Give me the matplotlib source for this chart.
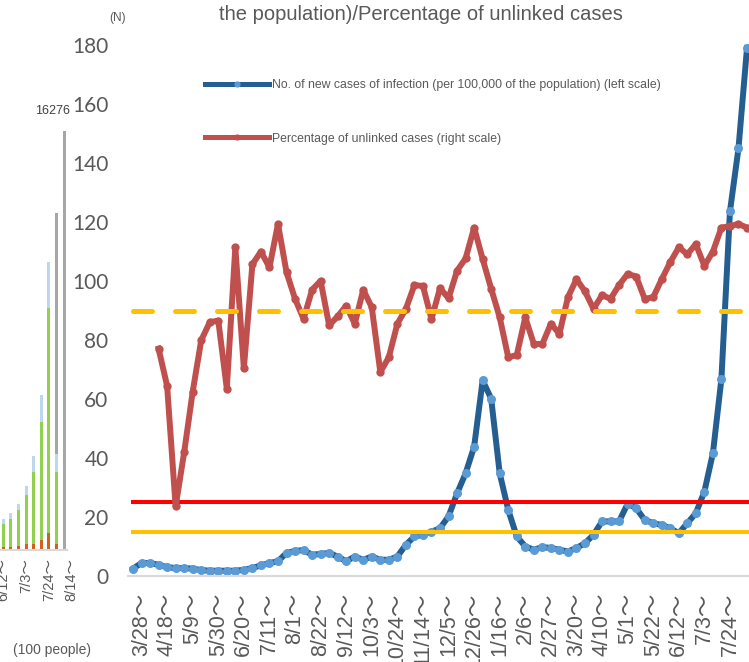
import matplotlib
matplotlib.use('Agg')
import matplotlib.pyplot as plt
import numpy as np
from matplotlib.lines import Line2D

# ---- data: main chart (weekly, starting the week of 3/21) ----
week_labels = ['3/28', '4/18', '5/9', '5/30', '6/20', '7/11', '8/1', '8/22',
               '9/12', '10/3', '10/24', '11/14', '12/5', '12/26', '1/16', '2/6',
               '2/27', '3/20', '4/10', '5/1', '5/22', '6/12', '7/3', '7/24']

# new cases per 100,000 of the population (left scale)
new_cases = [2.5, 4.4, 4.4, 3.8, 3.0, 2.7, 2.7, 2.5, 2.0, 1.8,
             1.8, 1.8, 1.8, 2.1, 2.7, 3.6, 4.4, 5.0, 7.8, 8.5,
             8.8, 7.2, 7.5, 7.8, 6.6, 5.0, 6.6, 5.5, 6.6, 5.5,
             5.5, 6.6, 10.6, 13.4, 14.0, 15.0, 16.2, 20.2, 28.0, 34.8,
             43.8, 66.3, 60.1, 34.8, 22.4, 13.4, 10.0, 8.9, 9.8, 9.5,
             8.9, 8.3, 9.5, 11.1, 14.0, 18.5, 18.5, 18.5, 24.5, 23.0,
             19.0, 17.9, 17.3, 16.2, 14.5, 17.9, 21.3, 28.6, 41.6, 66.9,
             123.6, 145.0, 179.0]

# percentage of unlinked cases (right scale, %)
unlinked_pct = [np.nan, np.nan, np.nan, 42.8, 35.8, 13.1, 23.3, 34.7, 44.4, 47.8,
                48.1, 35.3, 61.9, 39.1, 58.7, 61.1, 58.1, 66.3, 57.2, 52.2,
                48.4, 53.9, 55.6, 47.2, 48.9, 50.9, 47.5, 53.9, 50.6, 38.4,
                41.2, 47.5, 50.3, 54.8, 54.6, 48.4, 54.2, 52.3, 57.5, 59.8,
                65.6, 59.7, 54.1, 48.7, 41.2, 41.6, 48.7, 43.7, 43.7, 47.5,
                45.6, 52.5, 55.9, 53.6, 50.3, 52.9, 52.2, 54.8, 56.9, 56.4,
                52.2, 52.5, 55.9, 59.1, 61.9, 60.6, 62.5, 58.4, 61.1, 65.6,
                65.9, 66.3, 65.6]

threshold_red = 25      # per 100,000
threshold_orange = 15   # per 100,000
threshold_pct = 50      # %

# ---- data: neighbouring bar chart (cut off on the left) ----
bar_labels = ['6/12', '7/3', '7/24', '8/14']
bar_orange = [104, 104, 142, 207, 233, 362, 647, 207, 0]
bar_green = [906, 1100, 1385, 1903, 2783, 4596, 8726, 2809, 0]
bar_lblue = [194, 220, 233, 350, 608, 1036, 1787, 712, 0]
bar_gray = [0, 0, 0, 0, 0, 0, 0, 9373, 16276]
bar_total_label = '16276'

W, H = 749, 662
fig = plt.figure(figsize=(W / 100, H / 100), dpi=100)
fig.patch.set_facecolor('white')

txt = '#595959'
jp = ['Liberation Sans', 'Noto Sans CJK JP']

# ================= main chart =================
ax = fig.add_axes([128 / W, (H - 576) / H, 632 / W, 531 / H])
x = np.arange(len(new_cases))
ax.plot(x, new_cases, color='#255E91', lw=4.3, marker='o', markersize=6.5,
        markerfacecolor='#5B9BD5', markeredgecolor='none', clip_on=False, zorder=2)
ax.plot(x, [threshold_red] * len(x), color='#FF0000', lw=2.9, zorder=3, clip_on=False)
ax.plot(x, [threshold_orange] * len(x), color='#FFC000', lw=2.9, zorder=3, clip_on=False)

ax.set_xlim(-5 / 8.528, 632 / 8.528 - 5 / 8.528)
ax.set_ylim(0, 180)
ax.set_yticks(range(0, 181, 20))
ax.tick_params(axis='y', length=0, pad=14, labelsize=15, labelcolor=txt)
for t in ax.get_yticklabels():
    t.set_family('Lato')
ax.set_xticks(x[1::3])
ax.set_xticklabels([s + '～' for s in week_labels], rotation=90, family=jp,
                   fontsize=15.5, color=txt, va='top', ha='center')
ax.tick_params(axis='x', length=0, pad=12)
for side in ['top', 'right', 'left']:
    ax.spines[side].set_visible(False)
ax.spines['bottom'].set_color('#D9D9D9')
ax.spines['bottom'].set_linewidth(1.5)
ax.patch.set_visible(False)

ax2 = ax.twinx()
ax2.set_ylim(0, 100)
ax2.plot(x, unlinked_pct, color='#C0504D', lw=4.3, marker='o', markersize=6,
         markeredgecolor='none', clip_on=False, zorder=2)
ax2.plot(x, [threshold_pct] * len(x), color='#FFC000', lw=3.6,
         dashes=(3.8, 4.6), dash_capstyle='round', zorder=3, clip_on=False)
ax2.set_yticks([])
for side in ax2.spines:
    ax2.spines[side].set_visible(False)

fig.text(421 / W, 1 - 20 / H, 'the population)/Percentage of unlinked cases',
         ha='center', va='baseline', fontsize=14.5, color=txt, family='Liberation Sans')
fig.text(118 / W, 1 - 18 / H, '(N)', ha='center', va='center', fontsize=8.5,
         color=txt, family='Liberation Sans')

handles = [
    Line2D([], [], color='#255E91', lw=3.6, marker='o', markersize=4.5,
           markerfacecolor='#5B9BD5', markeredgecolor='none'),
    Line2D([], [], color='#C0504D', lw=3.6, marker='o', markersize=4.5,
           markeredgecolor='none'),
]
labels = ['No. of new cases of infection (per 100,000 of the population) (left scale)',
          'Percentage of unlinked cases (right scale)']
fig.legend(handles, labels, loc='upper left', bbox_to_anchor=(205 / W, 1 - 79 / H),
           frameon=False, handlelength=5.2, handletextpad=0.3, labelspacing=3.4,
           borderpad=0, borderaxespad=0, labelcolor=txt,
           prop={'family': 'Liberation Sans', 'size': 8.8})

# ================= left bar chart fragment =================
axb = fig.add_axes([0, (H - 549.5) / H, 76 / W, 463 / H])
bx = np.arange(len(bar_gray))
bw = 0.4
b1 = np.array(bar_orange)
b2 = np.array(bar_green)
b3 = np.array(bar_lblue)
axb.bar(bx, b1, width=bw, color='#D0601A')
axb.bar(bx, b2, width=bw, bottom=b1, color='#92D050')
axb.bar(bx, b3, width=bw, bottom=b1 + b2, color='#BDD7EE')
axb.bar(bx, bar_gray, width=bw, bottom=b1 + b2 + b3, color='#A6A6A6')
axb.annotate(bar_total_label, xy=(bx[-1], bar_gray[-1]), xytext=(4, 12),
             textcoords='offset points', ha='right', va='baseline',
             fontsize=9, color='#404040', family='Liberation Sans')
axb.set_xlim(-3.3 / 7.6, 76 / 7.6 - 3.3 / 7.6)
axb.set_ylim(0, 18000)
axb.set_yticks([])
axb.set_xticks(bx[0::3].tolist() + [9])
axb.set_xticklabels([s + '～' for s in bar_labels], rotation=90, family=jp,
                    fontsize=10.5, color=txt, va='top', ha='center')
axb.tick_params(axis='x', length=0, pad=6)
for side in ['top', 'right', 'left']:
    axb.spines[side].set_visible(False)
axb.spines['bottom'].set_color('#D9D9D9')
axb.spines['bottom'].set_linewidth(1.5)
axb.spines['bottom'].set_bounds(-3.3 / 7.6, 64 / 7.6)
axb.patch.set_visible(False)

fig.text(52 / W, 1 - 650 / H, '(100 people)', ha='center', va='center',
         fontsize=10, color=txt, family='Liberation Sans')

fig.savefig('out.png', dpi=100, facecolor='white')
